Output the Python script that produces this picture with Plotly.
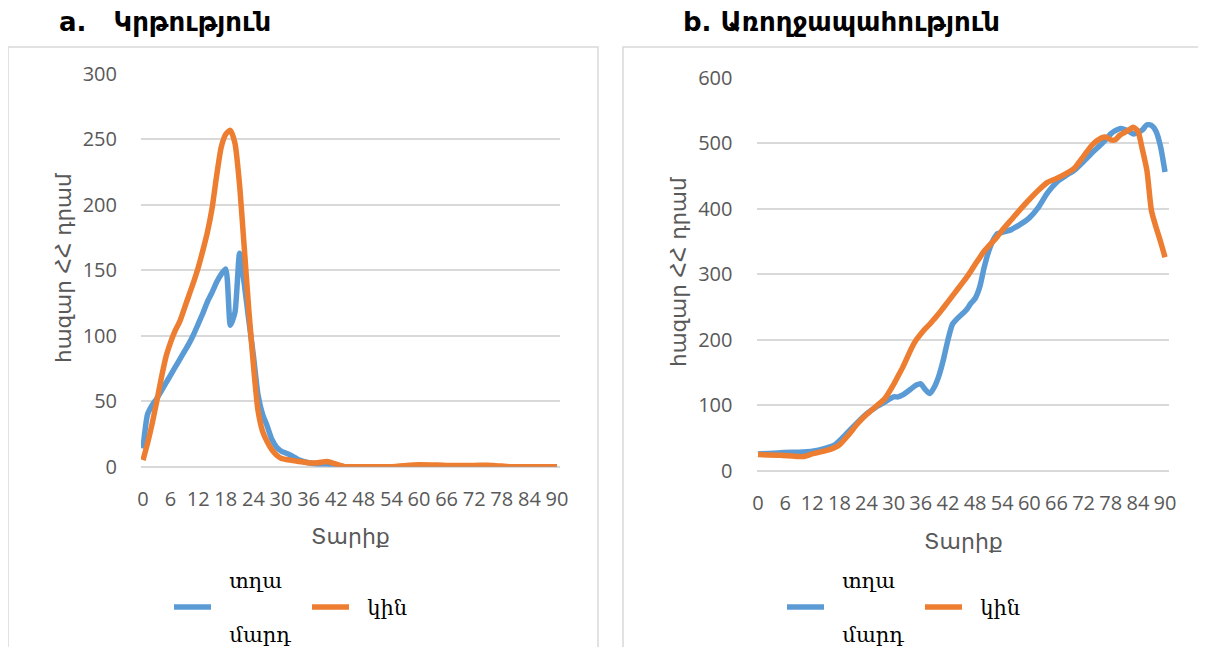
import plotly.graph_objects as go

# ---------------- data ----------------
ages_a = [0, 1, 2, 3, 4, 5, 6, 7, 8, 9, 10, 11, 12, 13, 14, 15, 16, 17, 18, 19, 20,
          21, 22, 23, 24, 25, 26, 27, 28, 29, 30, 32, 34, 36, 38, 40, 42, 44, 48,
          54, 60, 66, 72, 76, 80, 84, 90]
male_a = [14, 40, 47, 52, 58, 64, 70, 76, 82, 88, 94, 101, 109, 117, 126, 133, 141,
          147, 151, 108, 118, 163, 140, 112, 85, 55, 40, 31, 21, 15, 12, 9, 5, 3, 2,
          2, 1, 0, 0, 0, 0, 0, 0, 0, 0, 0, 0]
female_a = [5, 18, 33, 50, 68, 84, 95, 104, 111, 121, 131, 141, 152, 165, 179, 197,
            222, 244, 254, 257, 247, 215, 168, 120, 78, 43, 27, 19, 13, 9, 6.5, 5, 4,
            3, 3, 4, 2, 0, 0, 0, 1.5, 1, 1, 1, 0, 0, 0]

ages_b = [0, 5, 10, 12, 15, 17, 18, 20, 22, 24, 26, 28, 30, 31, 32, 34, 35, 36, 37,
          38, 39, 40, 41, 42, 43, 44, 46, 47, 48, 49, 50, 51, 52, 53, 54, 56, 58, 60,
          62, 64, 66, 68, 70, 72, 74, 76, 77, 78, 79, 80, 81, 82, 83, 84, 85, 86, 87,
          88, 89, 90]
male_b = [26, 28, 29, 30, 35, 40, 46, 60, 74, 87, 97, 105, 113, 113, 116, 126, 131,
          133, 124, 118, 128, 145, 170, 200, 224, 232, 245, 255, 263, 280, 310, 335,
          352, 362, 364, 368, 376, 386, 402, 424, 440, 450, 459, 472, 486, 499, 506,
          514, 519, 522, 521, 518, 514, 516, 520, 528, 527, 518, 495, 456]
female_b = [25, 24, 22, 26, 31, 36, 40, 55, 72, 86, 98, 110, 132, 145, 158, 188, 200,
            209, 217, 224, 232, 240, 249, 258, 267, 276, 294, 304, 315, 325, 335, 343,
            350, 358, 367, 383, 399, 414, 428, 440, 446, 453, 462, 480, 498, 508, 509,
            505, 505, 512, 516, 520, 524, 518, 490, 458, 397, 372, 350, 326]

xticks = list(range(0, 91, 6))
title_a = "a.   Կրթություն"
title_b = "b. Առողջապահություն"
ytitle = "հազար ՀՀ դրամ"
xtitle = "Տարիք"
SP = "\u00a0\u00a0"
name_m = SP + "տղա<br> <br>" + SP + "մարդ"
name_f = " <br>" + SP + "կին<br> "

BLUE = "#5B9BD5"
ORANGE = "#ED7D31"
GRID = "#D9D9D9"
TICK = "#595959"
W, H = 1206, 647
OFF = 8  # the page body margin shifts the figure by this many pixels


def px(x):
    return (x - OFF) / W


def py(y):
    return 1 - (y - OFF) / H


fig = go.Figure()
fig.add_trace(go.Scatter(x=ages_a, y=male_a, name=name_m, mode="lines",
                         line=dict(color=BLUE, width=5.5, shape="spline", smoothing=0.6),
                         xaxis="x", yaxis="y", legend="legend"))
fig.add_trace(go.Scatter(x=ages_a, y=female_a, name=name_f, mode="lines",
                         line=dict(color=ORANGE, width=5.5, shape="spline", smoothing=0.6),
                         xaxis="x", yaxis="y", legend="legend"))
fig.add_trace(go.Scatter(x=ages_b, y=male_b, name=name_m, mode="lines",
                         line=dict(color=BLUE, width=5.5, shape="spline", smoothing=0.6),
                         xaxis="x2", yaxis="y2", legend="legend2"))
fig.add_trace(go.Scatter(x=ages_b, y=female_b, name=name_f, mode="lines",
                         line=dict(color=ORANGE, width=5.5, shape="spline", smoothing=0.6),
                         xaxis="x2", yaxis="y2", legend="legend2"))

tickfont = dict(family="Open Sans, DejaVu Sans", size=20, color=TICK)
common_x = dict(tickvals=xticks, showgrid=False, zeroline=False, showline=False,
                ticks="", tickfont=tickfont, ticklabelstandoff=18, fixedrange=True)
common_y = dict(showgrid=True, gridcolor=GRID, gridwidth=1.5, zeroline=True,
                zerolinecolor=GRID, zerolinewidth=1.5, showline=False, ticks="",
                tickfont=tickfont, ticklabelstandoff=23, fixedrange=True)

legfont = dict(family="DejaVu Serif", size=21, color="#000000")
fig.update_layout(
    width=W, height=H, autosize=False,
    margin=dict(l=0, r=0, t=0, b=0, autoexpand=False),
    paper_bgcolor="white", plot_bgcolor="white",
    xaxis=dict(domain=[px(141), px(560)], range=[-0.43, 90.65], anchor="y", **common_x),
    yaxis=dict(domain=[py(466.7), py(74)], range=[0, 300], dtick=50, anchor="x", **common_y),
    xaxis2=dict(domain=[px(756.5), px(1169)], range=[-0.33, 90.88], anchor="y2", **common_x),
    yaxis2=dict(domain=[py(471), py(77.5)], range=[0, 600], dtick=100, anchor="x2", **common_y),
    legend=dict(orientation="h", x=px(169), xanchor="left", y=py(607), yanchor="middle",
                font=legfont, entrywidth=86, entrywidthmode="pixels", valign="middle",
                itemwidth=37, bgcolor="rgba(0,0,0,0)"),
    legend2=dict(orientation="h", x=px(782), xanchor="left", y=py(607), yanchor="middle",
                 font=legfont, entrywidth=86, entrywidthmode="pixels", valign="middle",
                 itemwidth=37, bgcolor="rgba(0,0,0,0)"),
    showlegend=True,
)

# panel frames
fig.add_shape(type="rect", xref="paper", yref="paper", x0=px(8), x1=px(598),
              y0=py(700), y1=py(47), line=dict(color=GRID, width=1.5), layer="below")
fig.add_shape(type="rect", xref="paper", yref="paper", x0=px(623), x1=px(1260),
              y0=py(700), y1=py(47), line=dict(color=GRID, width=1.5), layer="below")

titlefont = dict(family="DejaVu Sans", size=26, color="#000000")
yfont = dict(family="DejaVu Sans", size=21.5, color=TICK)
xfont = dict(family="DejaVu Sans", size=22, color=TICK)
fig.add_annotation(text="<b>" + title_a + "</b>", xref="paper", yref="paper",
                   x=px(57), y=py(22), xanchor="left", yanchor="middle",
                   showarrow=False, font=titlefont)
fig.add_annotation(text="<b>" + title_b + "</b>", xref="paper", yref="paper",
                   x=px(681), y=py(22), xanchor="left", yanchor="middle",
                   showarrow=False, font=titlefont)
fig.add_annotation(text=ytitle, xref="paper", yref="paper", x=px(63), y=py(268),
                   textangle=-90, showarrow=False, font=yfont,
                   xanchor="center", yanchor="middle")
fig.add_annotation(text=ytitle, xref="paper", yref="paper", x=px(678), y=py(272),
                   textangle=-90, showarrow=False, font=yfont,
                   xanchor="center", yanchor="middle")
fig.add_annotation(text=xtitle, xref="paper", yref="paper", x=px(350), y=py(536),
                   showarrow=False, font=xfont, xanchor="center", yanchor="middle")
fig.add_annotation(text=xtitle, xref="paper", yref="paper", x=px(963), y=py(541),
                   showarrow=False, font=xfont, xanchor="center", yanchor="middle")

fig.write_html("out.html")
